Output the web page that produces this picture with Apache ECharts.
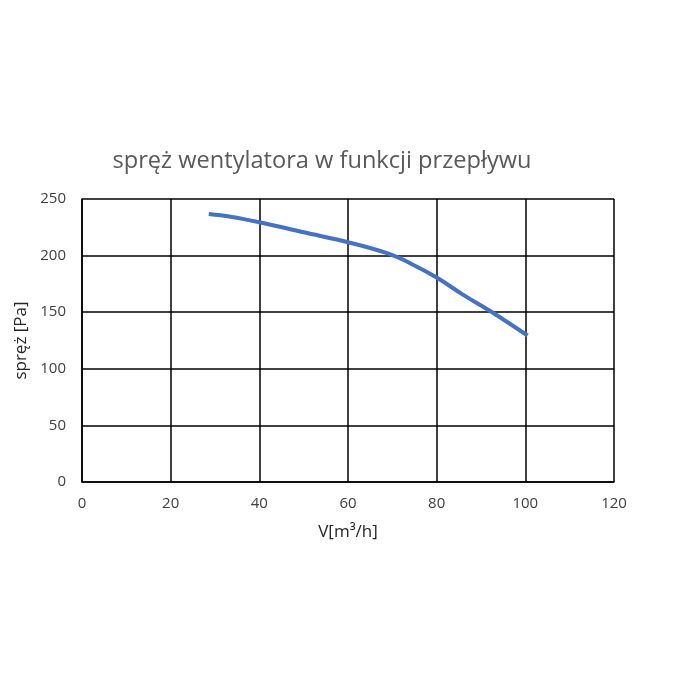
<!DOCTYPE html>
<html>
<head>
<meta charset="utf-8">
<script src="https://cdn.jsdelivr.net/npm/echarts@6/dist/echarts.min.js"></script>
<style>
html,body{margin:0;padding:0;background:#fff;}
#chart{width:700px;height:700px;}
</style>
</head>
<body>
<div id="chart"></div>
<script>
const flow = [28.6, 33.5, 40, 50, 60, 68.8, 74, 80, 86, 92.5, 100.5];
const pressure = [236.8, 234.4, 229.5, 220.6, 211.8, 202.1, 193.3, 180.6, 165.3, 150, 129.4];
const xTicks = [0, 20, 40, 60, 80, 100, 120];
const yTicks = [0, 50, 100, 150, 200, 250];
const titleText = 'spręż wentylatora w funkcji przepływu';
const xName = 'V[m³/h]';
const yName = 'spręż [Pa]';

const chart = echarts.init(document.getElementById('chart'), null, {renderer: 'canvas'});
const font = '"Open Sans", "Noto Sans", sans-serif';
chart.setOption({
  animation: false,
  backgroundColor: '#fff',
  title: {
    text: titleText,
    left: 317, top: 144, textAlign: 'center',
    textStyle: {fontFamily: font, fontSize: 23.6, fontWeight: 'normal', color: '#595959'}
  },
  grid: {left: 82, right: 86, top: 199, bottom: 218},
  xAxis: {
    type: 'value', min: xTicks[0], max: xTicks[xTicks.length - 1], interval: 20,
    name: xName, nameLocation: 'middle', nameGap: 42,
    nameTextStyle: {fontFamily: font, fontSize: 17, color: '#262626'},
    axisLine: {show: true, lineStyle: {color: '#000', width: 1.5}},
    axisTick: {show: false},
    axisLabel: {fontFamily: font, fontSize: 15, color: '#404040', margin: 14},
    splitLine: {show: true, lineStyle: {color: '#000', width: 1.5}}
  },
  yAxis: {
    type: 'value', min: yTicks[0], max: yTicks[yTicks.length - 1], interval: 50,
    name: yName, nameLocation: 'middle', nameGap: 46, nameRotate: 90,
    nameTextStyle: {fontFamily: font, fontSize: 17, color: '#262626'},
    axisLine: {show: true, lineStyle: {color: '#000', width: 1.5}},
    axisTick: {show: false},
    axisLabel: {fontFamily: font, fontSize: 15, color: '#404040', margin: 16},
    splitLine: {show: true, lineStyle: {color: '#000', width: 1.5}}
  },
  series: [{
    type: 'line',
    data: flow.map((x, i) => [x, pressure[i]]),
    smooth: 0.4,
    showSymbol: false,
    lineStyle: {color: '#4472C4', width: 4},
    z: 5
  }]
});
</script>
</body>
</html>
